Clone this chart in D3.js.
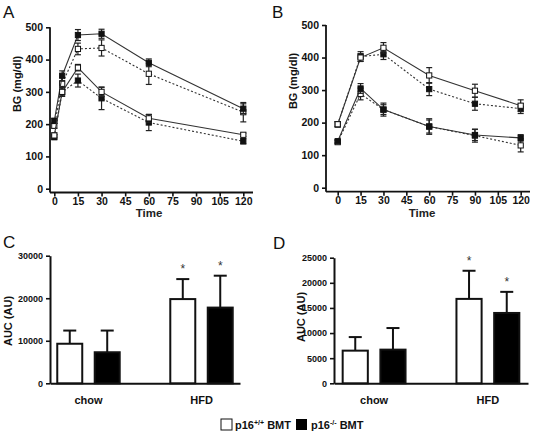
<!DOCTYPE html>
<html><head><meta charset="utf-8">
<script src="https://cdn.jsdelivr.net/npm/d3@7"></script>
<style>
html,body{margin:0;padding:0;background:#fff;}
svg text{font-family:"Liberation Sans",Arial,sans-serif;}
</style></head>
<body><svg id="c" width="537" height="436"></svg>
<script>
// ---------- DATA ----------
const timeA = [0, 5, 15, 30, 60, 120];
const timeB = [0, 15, 30, 60, 90, 120];
const timeTicks = [0, 15, 30, 45, 60, 75, 90, 105, 120];
const bgTicks = [0, 100, 200, 300, 400, 500];

// Panel A series (mean, sem)
const aHfdSolid = [210, 350, 476, 480, 390, 248];
const aHfdSolidErr = [8, 15, 17, 14, 12, 15];
const aHfdDot = [195, 325, 433, 436, 356, 237];
const aHfdDotErr = [8, 20, 18, 25, 33, 30];
const aChowSolid = [165, 300, 375, 300, 218, 167];
const aChowSolidErr = [8, 14, 10, 14, 12, 5];
const aChowDot = [160, 300, 335, 280, 205, 147];
const aChowDotErr = [8, 12, 20, 35, 25, 8];

// Panel B series
const bHfdSolid = [195, 400, 430, 345, 298, 252];
const bHfdSolidErr = [8, 12, 16, 24, 20, 18];
const bHfdDot = [195, 403, 410, 303, 258, 243];
const bHfdDotErr = [8, 15, 16, 20, 20, 15];
const bChowSolid = [143, 305, 240, 188, 162, 153];
const bChowSolidErr = [5, 15, 20, 24, 17, 10];
const bChowDot = [140, 288, 240, 188, 160, 130];
const bChowDotErr = [5, 18, 15, 20, 20, 20];

// Bar panels
const diets = ["chow", "HFD"];
const genotypes = ["wt", "ko"];
const aucC = [9300, 7300, 19800, 17800];
const aucCErr = [3100, 5100, 4700, 7500];
const aucD = [6500, 6700, 16800, 14000];
const aucDErr = [2700, 4300, 5600, 4200];
const sigC = [false, false, true, true];
const sigD = [false, false, true, true];
const aucTicksC = [0, 10000, 20000, 30000];
const aucTicksD = [0, 5000, 10000, 15000, 20000, 25000];
const legendLabels = ["p16", "p16"];

// ---------- DRAW ----------
const svg = d3.select("#c");
const tickFont = "bold 10.5px 'Liberation Sans', Arial, sans-serif";

function panelLetter(t, x, y){
  svg.append("text").attr("x", x).attr("y", y).attr("font-size", 17)
    .attr("fill", "#111").text(t);
}

function lineChart(cfg){
  const g = svg.append("g");
  const x = d3.scaleLinear().domain([0,120]).range(cfg.xr);
  const y = d3.scaleLinear().domain([0,500]).range(cfg.yr);
  const ya = d3.axisLeft(y).tickValues(bgTicks).tickSize(4).tickSizeOuter(0).tickFormat(d3.format("d"));
  const yg = g.append("g").attr("transform", `translate(${cfg.axX},0)`).call(ya);
  yg.select(".domain").attr("d", `M0,${cfg.yr[1]}V${cfg.axY}`);
  const xa = d3.axisBottom(x).tickValues(timeTicks).tickSize(4).tickSizeOuter(0).tickPadding(1).tickFormat(d3.format("d"));
  const xg = g.append("g").attr("transform", `translate(0,${cfg.axY})`).call(xa);
  xg.select(".domain").attr("d", `M${cfg.axX},0H${cfg.axEnd}`);
  [yg, xg].forEach(a => {
    a.selectAll(".domain").attr("stroke", "#111").attr("stroke-width", 1.8);
    a.selectAll(".tick line").attr("stroke", "#111").attr("stroke-width", 1.6);
    a.selectAll("text").style("font", tickFont).attr("fill", "#111");
  });
  g.append("text").attr("transform", `translate(${cfg.ytx},${cfg.yty}) rotate(-90)`)
    .attr("text-anchor", "middle").attr("font-size", 11).attr("font-weight", "bold")
    .attr("fill", "#111").text("BG (mg/dl)");
  g.append("text").attr("x", cfg.ttx).attr("y", 217).attr("text-anchor", "middle")
    .attr("font-size", 11.5).attr("font-weight", "bold").attr("fill", "#222").text("Time");

  cfg.series.forEach(s => {
    const pts = cfg.times.map((t,i) => ({t, v: s.v[i], e: s.e[i]}));
    g.append("path").datum(pts)
      .attr("d", d3.line().x(d => x(d.t)).y(d => y(d.v)))
      .attr("fill", "none").attr("stroke", "#333").attr("stroke-width", 1.1)
      .attr("stroke-dasharray", s.dash ? "2,2" : null);
    const eb = g.append("g").attr("stroke", "#222").attr("stroke-width", 1.2);
    pts.forEach(d => {
      eb.append("line").attr("x1", x(d.t)).attr("x2", x(d.t))
        .attr("y1", y(d.v - d.e)).attr("y2", y(d.v + d.e));
      [d.v - d.e, d.v + d.e].forEach(v => eb.append("line")
        .attr("x1", x(d.t) - 3).attr("x2", x(d.t) + 3).attr("y1", y(v)).attr("y2", y(v)));
    });
    g.selectAll(null).data(pts).enter().append("rect")
      .attr("x", d => x(d.t) - 2.6).attr("y", d => y(d.v) - 2.6)
      .attr("width", 5.2).attr("height", 5.2)
      .attr("fill", s.filled ? "#111" : "#fff").attr("stroke", "#111").attr("stroke-width", 1);
  });
}

lineChart({xr:[54.3,243.3], yr:[188.7,27.3], axX:50, axY:192.5, axEnd:253, ytx:21, yty:84, ttx:149,
  times: timeA,
  series:[
    {v:aHfdDot, e:aHfdDotErr, dash:true, filled:false},
    {v:aChowDot, e:aChowDotErr, dash:true, filled:true},
    {v:aHfdSolid, e:aHfdSolidErr, dash:false, filled:true},
    {v:aChowSolid, e:aChowSolidErr, dash:false, filled:false}
  ]});
lineChart({xr:[337.7,520.7], yr:[187.7,25], axX:326, axY:191.7, axEnd:530, ytx:297, yty:81, ttx:422,
  times: timeB,
  series:[
    {v:bHfdDot, e:bHfdDotErr, dash:true, filled:true},
    {v:bChowDot, e:bChowDotErr, dash:true, filled:false},
    {v:bHfdSolid, e:bHfdSolidErr, dash:false, filled:false},
    {v:bChowSolid, e:bChowSolidErr, dash:false, filled:true}
  ]});

function barChart(cfg){
  const g = svg.append("g");
  const x0 = d3.scaleBand().domain(diets).range(cfg.xr).paddingInner(0.35).paddingOuter(cfg.po);
  const x1 = d3.scaleBand().domain(genotypes).range([0, x0.bandwidth()]).paddingInner(0.333).paddingOuter(0.147);
  const y = d3.scaleLinear().domain([0, cfg.max]).range(cfg.yr);
  const ya = d3.axisLeft(y).tickValues(cfg.ticks).tickSize(4).tickSizeOuter(0).tickFormat(d3.format("d"));
  const yg = g.append("g").attr("transform", `translate(${cfg.xr[0]},0)`).call(ya);
  const xg = g.append("g").attr("transform", `translate(0,${cfg.yr[0]})`)
    .call(d3.axisBottom(x0).tickSize(0).tickSizeOuter(0));
  [yg, xg].forEach(a => {
    a.selectAll(".domain").attr("stroke", "#111").attr("stroke-width", 2);
    a.selectAll(".tick line").attr("stroke", "#111").attr("stroke-width", 1.6);
  });
  yg.selectAll("text").style("font", "bold 9px 'Liberation Sans', Arial, sans-serif").attr("fill", "#111");
  xg.selectAll("text").style("font", "bold 11px 'Liberation Sans', Arial, sans-serif").attr("fill", "#111").attr("dy", "1.6em");
  g.append("text").attr("transform", `translate(${cfg.ytx},${cfg.yty}) rotate(-90)`)
    .attr("text-anchor", "middle").attr("font-size", 11).attr("font-weight", "bold")
    .attr("fill", "#111").text("AUC (AU)");
  const data = [];
  diets.forEach((d,i) => genotypes.forEach((gt,j) => {
    const k = i*2 + j;
    data.push({d, gt, v: cfg.vals[k], e: cfg.errs[k], s: cfg.sig[k]});
  }));
  data.forEach(d => {
    const xc = x0(d.d) + x1(d.gt);
    const w = x1.bandwidth();
    const cx = xc + w/2;
    g.append("line").attr("x1", cx).attr("x2", cx).attr("y1", y(d.v)).attr("y2", y(d.v + d.e))
      .attr("stroke", "#111").attr("stroke-width", 2);
    g.append("line").attr("x1", cx - 6.5).attr("x2", cx + 6.5).attr("y1", y(d.v + d.e)).attr("y2", y(d.v + d.e))
      .attr("stroke", "#111").attr("stroke-width", 2);
    g.append("rect").attr("x", xc).attr("y", y(d.v)).attr("width", w).attr("height", y(0) - y(d.v))
      .attr("fill", d.gt === "wt" ? "#fff" : "#000").attr("stroke", "#111").attr("stroke-width", 2);
    if (d.s) g.append("text").attr("x", cx).attr("y", y(d.v + d.e) - 6).attr("text-anchor", "middle")
      .attr("font-size", 12).attr("fill", "#333").text("*");
  });
}

barChart({xr:[50,240], po:0.0155, yr:[383.3,255.7], max:30000, ticks:aucTicksC, vals:aucC, errs:aucCErr, sig:sigC, ytx:12, yty:321});
barChart({xr:[334,528], po:0.0275, yr:[383.3,257.7], max:25000, ticks:aucTicksD, vals:aucD, errs:aucDErr, sig:sigD, ytx:305, yty:317});

panelLetter("A", 3, 18);
panelLetter("B", 272, 18);
panelLetter("C", 3, 248);
panelLetter("D", 273, 249);

// legend
const lg = svg.append("g").attr("font-weight", "bold").attr("font-size", 11).attr("fill", "#111");
lg.append("rect").attr("x", 221).attr("y", 419).attr("width", 11).attr("height", 11)
  .attr("fill", "#fff").attr("stroke", "#111").attr("stroke-width", 1);
const t1 = lg.append("text").attr("x", 235).attr("y", 429);
t1.append("tspan").text(legendLabels[0]);
t1.append("tspan").attr("font-size", 7).attr("dy", -4).text("+/+");
t1.append("tspan").attr("dy", 4).text(" BMT");
lg.append("rect").attr("x", 296).attr("y", 419).attr("width", 11).attr("height", 11).attr("fill", "#000");
const t2 = lg.append("text").attr("x", 311).attr("y", 429);
t2.append("tspan").text(legendLabels[1]);
t2.append("tspan").attr("font-size", 7).attr("dy", -4).text("-/-");
t2.append("tspan").attr("dy", 4).text(" BMT");
</script></body></html>
